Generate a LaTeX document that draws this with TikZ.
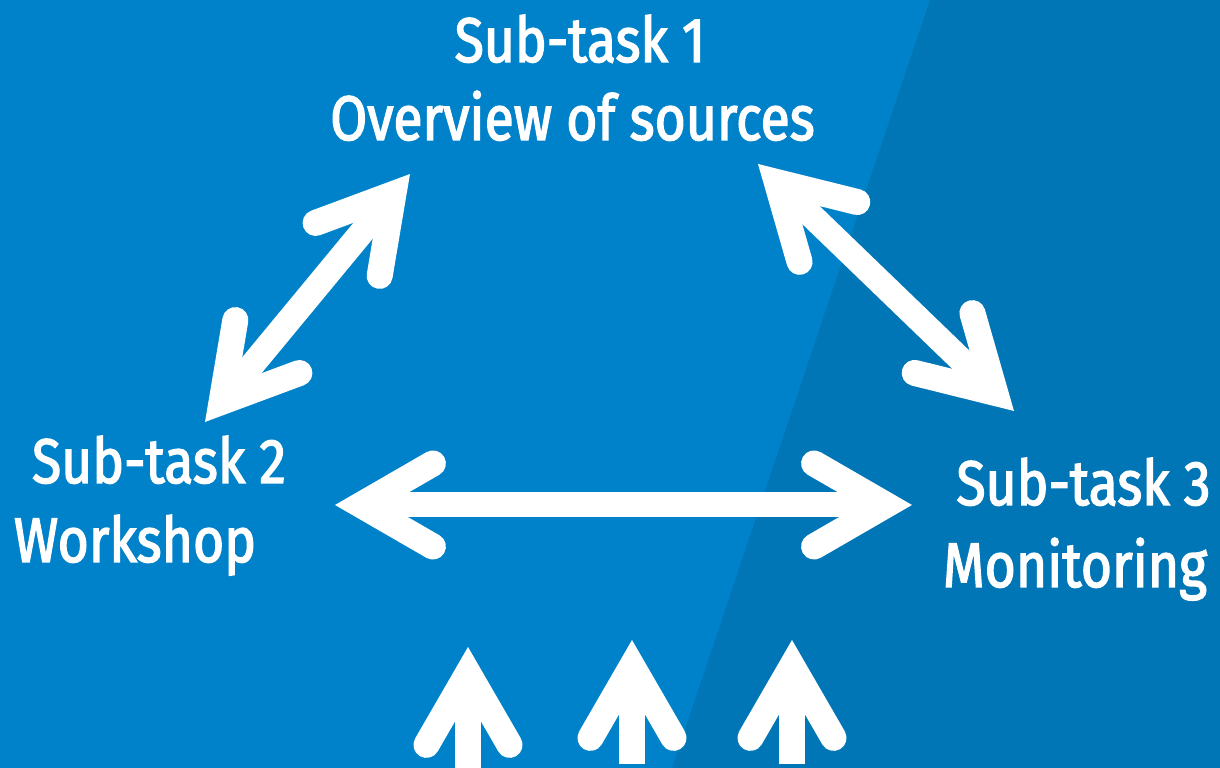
\documentclass[tikz,border=0pt]{standalone}
\usepackage{fontspec}
\usetikzlibrary{calc}
\newfontfamily\lblfont[FakeStretch=0.85,FakeBold=2.2]{Fira Sans}
\definecolor{bglight}{RGB}{0,130,202}
\definecolor{bgdark}{RGB}{0,118,182}
\tikzset{
  lbl/.style={text=white,inner sep=0pt,anchor=base,font=\lblfont\fontsize{17.9}{20}\selectfont},
  shaft/.style={draw=white,line width=0.25cm,line cap=butt},
  headstroke/.style={draw=white,line width=0.26cm,line cap=round,line join=miter},
}
\newcommand\headto[2]{%
  \draw[headstroke] ($(#1)!1.063cm!23:(#2)$) -- ($(#1)!0.26cm!(#2)$) -- ($(#1)!1.063cm!-23:(#2)$);}
\newcommand\dblarrow[2]{%
  \draw[shaft] ($(#1)!0.25cm!(#2)$) -- ($(#2)!0.25cm!(#1)$);
  \headto{#1}{#2}\headto{#2}{#1}}
\newcommand\uparr[2]{%
  \draw[shaft] ($(#1)!0.25cm!(#2)$) -- (#2);
  \headto{#1}{#2}}
\begin{document}
\begin{tikzpicture}[x=0.01cm,y=-0.01cm]
\useasboundingbox (0,0) rectangle (1220,768);
\fill[bglight] (0,0) rectangle (1220,768);
\fill[bgdark] (930,0) -- (1220,0) -- (1220,768) -- (672,768) -- cycle;

\node[lbl] (t1a) at (580,62) {Sub-task 1};
\node[lbl] (t1b) at (572.5,140) {Overview of sources};
\node[lbl] (t2a) at (159,483) {Sub-task 2};
\node[lbl] (t2b) at (135,562) {Workshop};
\node[lbl] (t3a) at (1083.5,505) {Sub-task 3};
\node[lbl] (t3b) at (1075,587) {Monitoring};

\coordinate (a12a) at (410,174);
\coordinate (a12b) at (205,422);
\coordinate (a13a) at (758,164);
\coordinate (a13b) at (1014,411);
\coordinate (a23a) at (335,505);
\coordinate (a23b) at (912,505);
\coordinate (u1) at (468,647);
\coordinate (u1e) at (468,772);
\coordinate (u2) at (632,640);
\coordinate (u2e) at (632,764);
\coordinate (u3) at (792,640);
\coordinate (u3e) at (792,764);

\dblarrow{a12a}{a12b}
\dblarrow{a13a}{a13b}
\dblarrow{a23a}{a23b}
\uparr{u1}{u1e}
\uparr{u2}{u2e}
\uparr{u3}{u3e}
\end{tikzpicture}
\end{document}
